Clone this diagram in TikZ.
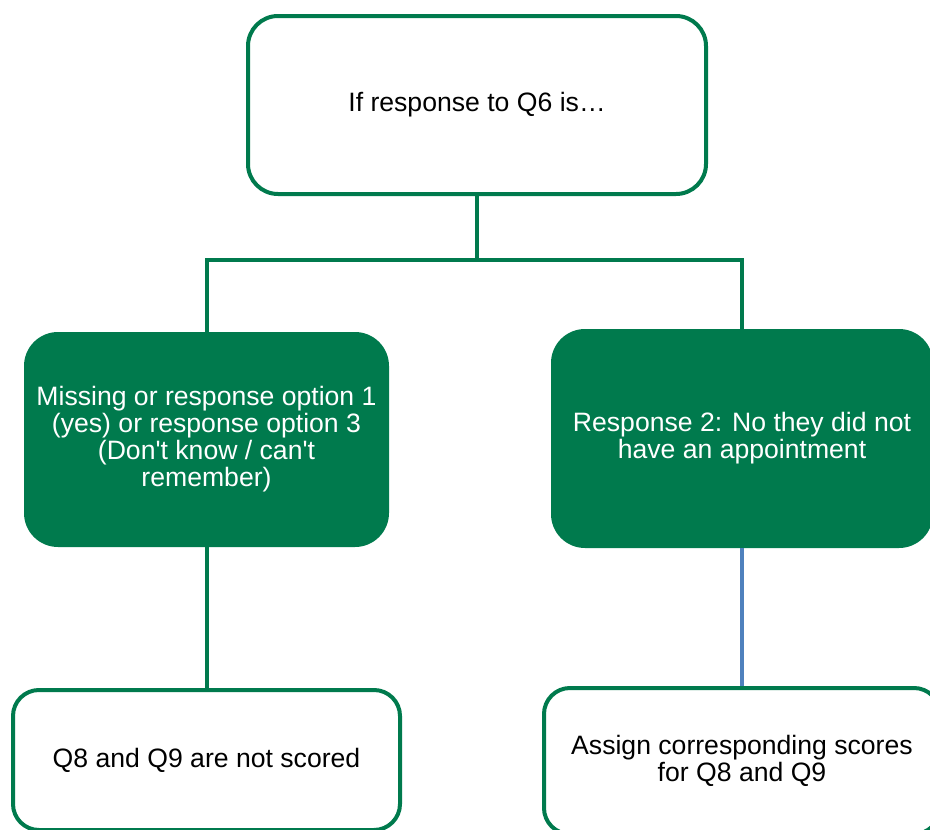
\documentclass[tikz,border=0pt]{standalone}
\usepackage{fontspec}
\setmainfont{Liberation Sans}
\definecolor{dkgreen}{RGB}{0,122,77}
\definecolor{lineblue}{RGB}{79,129,189}
\tikzset{
  whitebox/.style={draw=dkgreen, line width=4pt, fill=white, rectangle, rounded corners=30pt, align=center, text=black, font=\fontsize{26.6}{27}\selectfont},
  greenbox/.style={draw=none, fill=dkgreen, rectangle, rounded corners=34pt, align=center, text=white, font=\fontsize{26.6}{27}\selectfont},
  conn/.style={draw=dkgreen, line width=4pt},
  connblue/.style={draw=lineblue, line width=4pt}
}
\begin{document}
\begin{tikzpicture}[x=1pt,y=-1pt]
\useasboundingbox (0,0) rectangle (930,830);
\clip (0,0) rectangle (930,830);
\node[whitebox, minimum width=458pt, minimum height=178pt] (top) at (477,105) {If response to Q6 is…};
\node[greenbox, minimum width=365pt, minimum height=215pt] (left) at (206.5,439.5) {Missing or response option 1\\(yes) or response option 3\\(Don\textquotesingle t know / can\textquotesingle t\\remember)};
\node[greenbox, minimum width=382pt, minimum height=219pt] (right) at (742,438.5) {Response 2: No they did not\\have an appointment};
\node[whitebox, rounded corners=26pt, minimum width=387pt, minimum height=140pt] (bl) at (206.5,760) {Q8 and Q9 are not scored};
\node[whitebox, rounded corners=26pt, minimum width=396pt, minimum height=146pt] (br) at (742,761) {Assign corresponding scores\\for Q8 and Q9};
\coordinate (j) at (477,260);
\draw[conn] (top.south) -- (j);
\draw[conn] (j) -| (left.north);
\draw[conn] (j) -| (right.north);
\draw[conn] (left.south) -- (bl.north);
\draw[connblue] (right.south) -- (br.north);
\end{tikzpicture}
\end{document}
